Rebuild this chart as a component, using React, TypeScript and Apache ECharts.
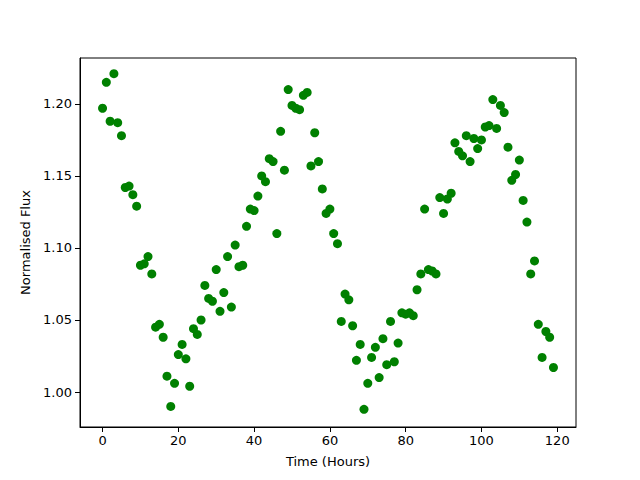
import React, { useEffect, useRef } from "react";
import * as echarts from "echarts";

const hours: number[] = Array.from({ length: 120 }, (_, i) => i);
const flux: number[] = [
  1.197, 1.215, 1.188, 1.221, 1.187, 1.178, 1.142, 1.143, 1.137, 1.129,
  1.088, 1.089, 1.094, 1.082, 1.045, 1.047, 1.038, 1.011, 0.990, 1.006,
  1.026, 1.033, 1.023, 1.004, 1.044, 1.040, 1.050, 1.074, 1.065, 1.063,
  1.085, 1.056, 1.069, 1.094, 1.059, 1.102, 1.087, 1.088, 1.115, 1.127,
  1.126, 1.136, 1.150, 1.146, 1.162, 1.160, 1.110, 1.181, 1.154, 1.210,
  1.199, 1.197, 1.196, 1.206, 1.208, 1.157, 1.180, 1.160, 1.141, 1.124,
  1.127, 1.110, 1.103, 1.049, 1.068, 1.064, 1.046, 1.022, 1.033, 0.988,
  1.006, 1.024, 1.031, 1.010, 1.037, 1.019, 1.049, 1.021, 1.034, 1.055,
  1.054, 1.055, 1.053, 1.071, 1.082, 1.127, 1.085, 1.084, 1.082, 1.135,
  1.124, 1.134, 1.138, 1.173, 1.167, 1.164, 1.178, 1.160, 1.176, 1.169,
  1.175, 1.184, 1.185, 1.203, 1.183, 1.199, 1.194, 1.170, 1.147, 1.151,
  1.161, 1.133, 1.118, 1.082, 1.091, 1.047, 1.024, 1.042, 1.038, 1.017,
];
const xTicks: number[] = [0, 20, 40, 60, 80, 100, 120];
const yTicks: number[] = [1.0, 1.05, 1.1, 1.15, 1.2];

export default function App() {
  const ref = useRef<HTMLDivElement>(null);
  useEffect(() => {
    if (!ref.current) return;
    const chart = echarts.init(ref.current, null, { renderer: "svg" });
    const font = "DejaVu Sans";
    chart.setOption({
      animation: false,
      backgroundColor: "#ffffff",
      textStyle: { fontFamily: font },
      grid: {
        left: 80,
        right: 64,
        top: 58,
        bottom: 53,
        show: true,
        borderColor: "#000000",
        borderWidth: 1,
        backgroundColor: "transparent",
      },
      xAxis: {
        type: "value",
        min: -5.95,
        max: 124.95,
        name: "Time (Hours)",
        nameLocation: "middle",
        nameGap: 28,
        nameTextStyle: { fontFamily: font, fontSize: 13, color: "#000" },
        axisLine: { show: true, onZero: false, lineStyle: { color: "#000", width: 1 } },
        axisTick: { show: true, length: 5, customValues: xTicks, lineStyle: { color: "#000" } },
        axisLabel: {
          customValues: xTicks,
          margin: 7,
          fontFamily: font,
          fontSize: 13,
          color: "#000",
        },
        splitLine: { show: false },
      },
      yAxis: {
        type: "value",
        min: 0.9757,
        max: 1.2319,
        name: "Normalised Flux",
        nameLocation: "middle",
        nameGap: 48,
        nameTextStyle: { fontFamily: font, fontSize: 13, color: "#000" },
        axisLine: { show: true, onZero: false, lineStyle: { color: "#000", width: 1 } },
        axisTick: { show: true, length: 5, customValues: yTicks, lineStyle: { color: "#000" } },
        axisLabel: {
          customValues: yTicks,
          margin: 8,
          fontFamily: font,
          fontSize: 13,
          color: "#000",
          formatter: (v: number) => v.toFixed(2),
        },
        splitLine: { show: false },
      },
      series: [
        {
          type: "scatter",
          data: hours.map((h, i) => [h, flux[i]]),
          symbol: "circle",
          symbolSize: 9,
          itemStyle: { color: "#008000", opacity: 1 },
        },
      ],
    });
    return () => chart.dispose();
  }, []);
  return (
    <div
      ref={ref}
      style={{ position: "fixed", left: 0, top: 0, width: 640, height: 480 }}
    />
  );
}
